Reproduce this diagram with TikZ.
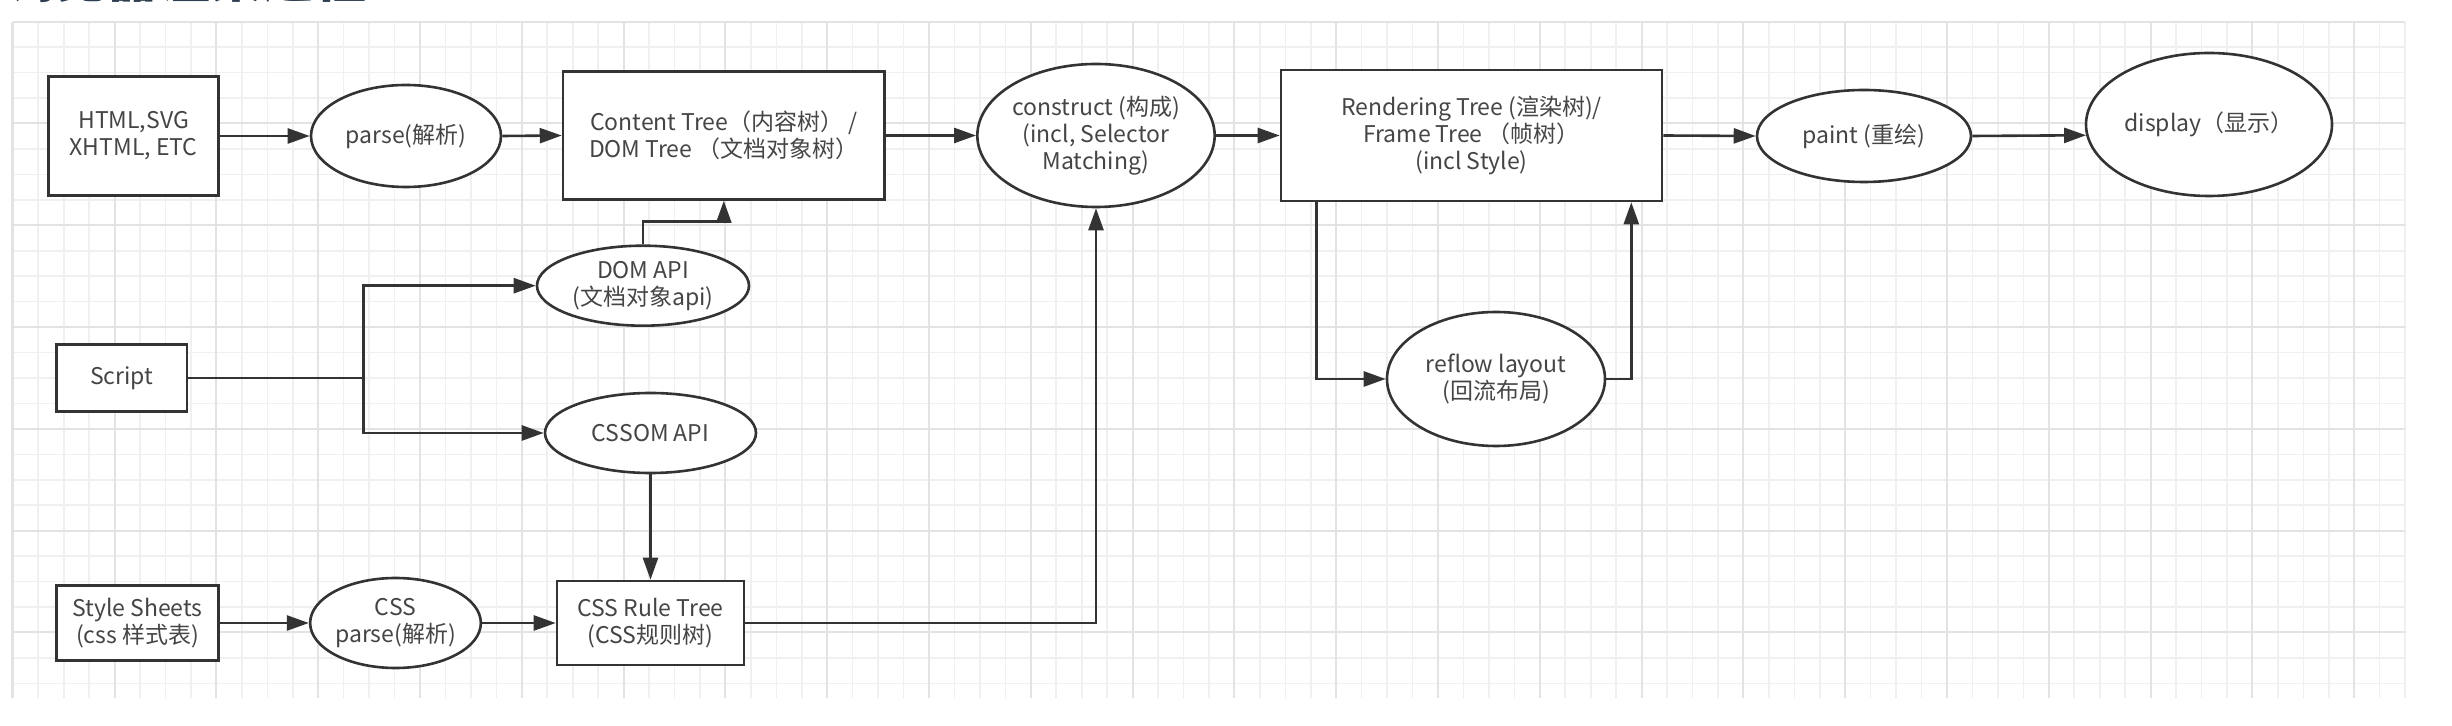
\documentclass[tikz,border=0pt]{standalone}
\usepackage{fontspec}
\setmainfont{Noto Sans CJK SC}
\usetikzlibrary{shapes.geometric,arrows.meta}
\definecolor{ink}{HTML}{333333}
\definecolor{txt}{HTML}{454545}
\definecolor{gridminor}{HTML}{F0F0F0}
\definecolor{gridmajor}{HTML}{E3E3E3}
\definecolor{titlecol}{HTML}{2D3E50}
\begin{document}
\begin{tikzpicture}[x=0.5pt,y=-0.5pt,
  every node/.style={font=\fontsize{11.5pt}{13.5pt}\selectfont, text=txt},
  box/.style={draw=ink, line width=1.3pt, fill=white, rectangle, align=center, inner sep=0pt},
  oval/.style={draw=ink, line width=1.3pt, fill=white, ellipse, align=center, inner sep=0pt},
  conn/.style={draw=ink, line width=1.3pt, -{Triangle[length=11pt,width=7.5pt]}},
  plainline/.style={draw=ink, line width=1.3pt},
  minorline/.style={draw=gridminor, line width=0.8pt},
  majorline/.style={draw=gridmajor, line width=1pt}]
\path[use as bounding box] (0,0) rectangle (2452,726);
\clip (0,0) rectangle (2452,726);
\fill[white] (0,0) rectangle (2452,726);
% title (cut off at the top edge, as in the reference)
\node[anchor=south west, inner sep=0pt, font=\fontsize{26pt}{26pt}\selectfont\bfseries, text=titlecol] (title) at (2,3.5) {浏览器渲染过程};
% grid
\foreach \k in {0,...,94} {
  \pgfmathsetmacro\xx{12.8+\k*25.45}
  \draw[minorline] (\xx,21.7) -- (\xx,698);
}
\foreach \k in {0,...,26} {
  \pgfmathsetmacro\yy{21.7+\k*25.45}
  \draw[minorline] (12.8,\yy) -- (2405,\yy);
}
\foreach \k in {0,4,...,92} {
  \pgfmathsetmacro\xx{12.8+\k*25.45}
  \draw[majorline] (\xx,21.7) -- (\xx,698);
}
\foreach \k in {0,4,...,24} {
  \pgfmathsetmacro\yy{21.7+\k*25.45}
  \draw[majorline] (12.8,\yy) -- (2405,\yy);
}
\draw[draw=gridmajor, line width=1.6pt] (12.8,21.7) -- (12.8,698);
% nodes
\node[box, minimum width=85pt, minimum height=59.5pt] (html) at (133.6,136) {HTML,SVG\\XHTML, ETC};
\node[oval, minimum width=95pt, minimum height=51pt] (parse) at (406,136) {parse(解析)};
\node[box, minimum width=160.75pt, minimum height=64pt] (content) at (723.8,135.5) {Content Tree（内容树） /\\DOM Tree （文档对象树）};
\node[oval, minimum width=118.5pt, minimum height=71.5pt] (construct) at (1096,135.5) {construct (构成)\\(incl, Selector\\Matching)};
\node[box, minimum width=190.5pt, minimum height=65.5pt] (render) at (1471.5,135.5) {Rendering Tree (渲染树)/\\Frame Tree （帧树）\\(incl Style)};
\node[oval, minimum width=107pt, minimum height=46pt] (paint) at (1864,136) {paint (重绘)};
\node[oval, minimum width=123pt, minimum height=71.5pt] (display) at (2209,124.5) {display（显示）};
\node[oval, minimum width=106pt, minimum height=40pt] (domapi) at (643,285.7) {DOM API\\(文档对象api)};
\node[oval, minimum width=105.5pt, minimum height=40pt] (cssom) at (650.5,433) {CSSOM API};
\node[box, minimum width=65.25pt, minimum height=33.5pt] (script) at (121.8,378) {Script};
\node[box, minimum width=81pt, minimum height=37.5pt] (style) at (137.5,623) {Style Sheets\\(css 样式表)};
\node[oval, minimum width=84.5pt, minimum height=45pt] (cssparse) at (395.5,623) {CSS\\parse(解析)};
\node[box, minimum width=93.5pt, minimum height=42pt] (cssrule) at (650.5,623) {CSS Rule Tree\\(CSS规则树)};
\node[oval, minimum width=109pt, minimum height=67pt] (reflow) at (1496,379) {reflow layout\\(回流布局)};
\coordinate (j) at (363.5,378);
% connectors
\draw[conn] (html.east) -- (parse.west);
\draw[conn] (parse.east) -- (content.west);
\draw[conn] (content.east) -- (construct.west);
\draw[conn] (construct.east) -- (render.west);
\draw[conn] (render.east) -- (paint.west);
\draw[conn] (paint.east) -- (display.185.4);
\draw[conn] (domapi.north) -- ++(0,-22.7) -| (content.south);
\draw[plainline] (script.east) -- (j);
\draw[conn] (j) |- (domapi.west);
\draw[conn] (j) |- (cssom.west);
\draw[conn] (cssom.south) -- (cssrule.north);
\draw[conn] (style.east) -- (cssparse.west);
\draw[conn] (cssparse.east) -- (cssrule.west);
\draw[conn] (cssrule.east) -| (construct.south);
\draw[conn] ([xshift=18.5pt]render.south west) |- (reflow.west);
\draw[conn] (reflow.east) -| ([xshift=-16pt]render.south east);
\end{tikzpicture}
\end{document}
